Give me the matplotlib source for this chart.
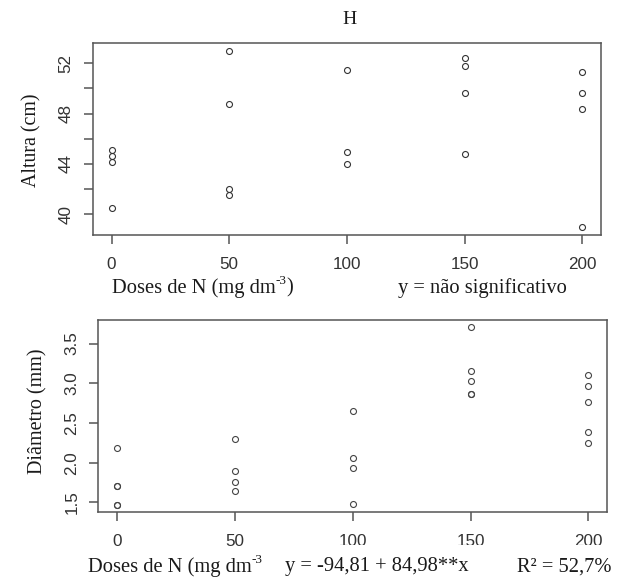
import matplotlib
matplotlib.use('Agg')
import matplotlib.pyplot as plt
from matplotlib.patches import Rectangle

doses = [0, 50, 100, 150, 200]
altura = {
    0: [45.1, 44.6, 44.15, 40.5],
    50: [53.0, 48.75, 42.0, 41.55],
    100: [51.45, 44.95, 44.0],
    150: [52.4, 51.8, 49.6, 44.8],
    200: [51.3, 49.65, 48.35, 38.95],
}
diametro = {
    0: [2.18, 1.71, 1.71, 1.47, 1.47],
    50: [2.30, 1.89, 1.76, 1.64],
    100: [2.65, 2.06, 1.93, 1.48],
    150: [3.71, 3.16, 3.03, 2.86, 2.86],
    200: [3.10, 2.96, 2.77, 2.39, 2.25],
}
alt_ticks = [40, 42, 44, 46, 48, 50, 52]
alt_labels = ['40', '', '44', '', '48', '', '52']
diam_ticks = [1.5, 2.0, 2.5, 3.0, 3.5]
diam_labels = ['1.5', '2.0', '2.5', '3.0', '3.5']

serif = 'Liberation Serif'
sans = 'Liberation Sans'
axcol = '#555555'
txtcol = '#1a1a1a'
fs = 14.8

fig = plt.figure(figsize=(6.24, 5.77), dpi=100)
ax1 = fig.add_axes([0.1486, 0.5932, 0.8145, 0.3318])
ax2 = fig.add_axes([0.1575, 0.1121, 0.8157, 0.3333])


def scatter(ax, data, col):
    for d in doses:
        vals = data[d]
        ax.plot([d] * len(vals), vals, linestyle='none', marker='o', markersize=4.3,
                markerfacecolor='none', markeredgecolor=col, markeredgewidth=0.8)


def style(ax, yt, yl):
    ax.set_xlim(-8, 208)
    ax.set_xticks(doses)
    ax.set_yticks(yt)
    ax.set_yticklabels(yl, rotation=90, va='center')
    for s in ax.spines.values():
        s.set_color(axcol)
        s.set_linewidth(1.1)
    ax.tick_params(direction='out', length=6.7, width=1.1, color=axcol,
                   labelcolor='#333333', labelsize=12.3)
    ax.tick_params(axis='x', pad=9)
    ax.tick_params(axis='y', pad=7)
    for lab in ax.get_xticklabels() + ax.get_yticklabels():
        lab.set_family(sans)


def dose_label(x, y, close=True):
    # "Doses de N (mg dm" + expoente -3 pequeno (com hifen) + ")"
    t = fig.text(x / 624, 1 - y / 577, 'Doses de N (mg dm', family=serif,
                 fontsize=fs, color=txtcol, ha='left', va='center', zorder=6)
    a = ax1.annotate('-3', xy=(1.0, 0.55), xycoords=t, family=serif, fontsize=9.5,
                     color=txtcol, ha='left', va='bottom', zorder=6,
                     annotation_clip=False)
    if close:
        ax1.annotate(')', xy=(1.0, 0.0), xycoords=(a, t), family=serif,
                     fontsize=fs, color=txtcol, ha='left', va='bottom', zorder=6,
                     annotation_clip=False)


scatter(ax1, altura, '#333333')
style(ax1, alt_ticks, alt_labels)
ax1.set_ylim(38.35, 53.6)

scatter(ax2, diametro, '#444444')
style(ax2, diam_ticks, diam_labels)
ax2.set_ylim(1.376, 3.796)

fig.text(350 / 624, 1 - 19.5 / 577, 'H', family=serif, fontsize=14, color=txtcol,
         ha='center', va='center')

fig.text(32 / 624, 1 - 140 / 577, 'Altura (cm)', family=serif, fontsize=14.3,
         color=txtcol, rotation=90, ha='center', va='center')
fig.text(38 / 624, 1 - 411 / 577, 'Diâmetro (mm)', family=serif, fontsize=14.5,
         color=txtcol, rotation=90, ha='center', va='center')

dose_label(112, 288)
fig.text(398 / 624, 1 - 288 / 577, 'y = não significativo', family=serif,
         fontsize=fs, color=txtcol, ha='left', va='center')

# faixa branca que corta os rotulos do eixo inferior
fig.patches.append(Rectangle((300 / 624, 0), 324 / 624, 1 - 545 / 577,
                             transform=fig.transFigure, facecolor='white',
                             edgecolor='none', zorder=5))
dose_label(88, 567, close=False)
fig.text(285 / 624, 1 - 567 / 577, 'y = -94,81 + 84,98**x', family=serif,
         fontsize=fs, color=txtcol, ha='left', va='center', zorder=6)
fig.text(517 / 624, 1 - 567 / 577, 'R² = 52,7%', family=serif,
         fontsize=fs, color=txtcol, ha='left', va='center', zorder=6)

fig.savefig('out.png', dpi=100)
